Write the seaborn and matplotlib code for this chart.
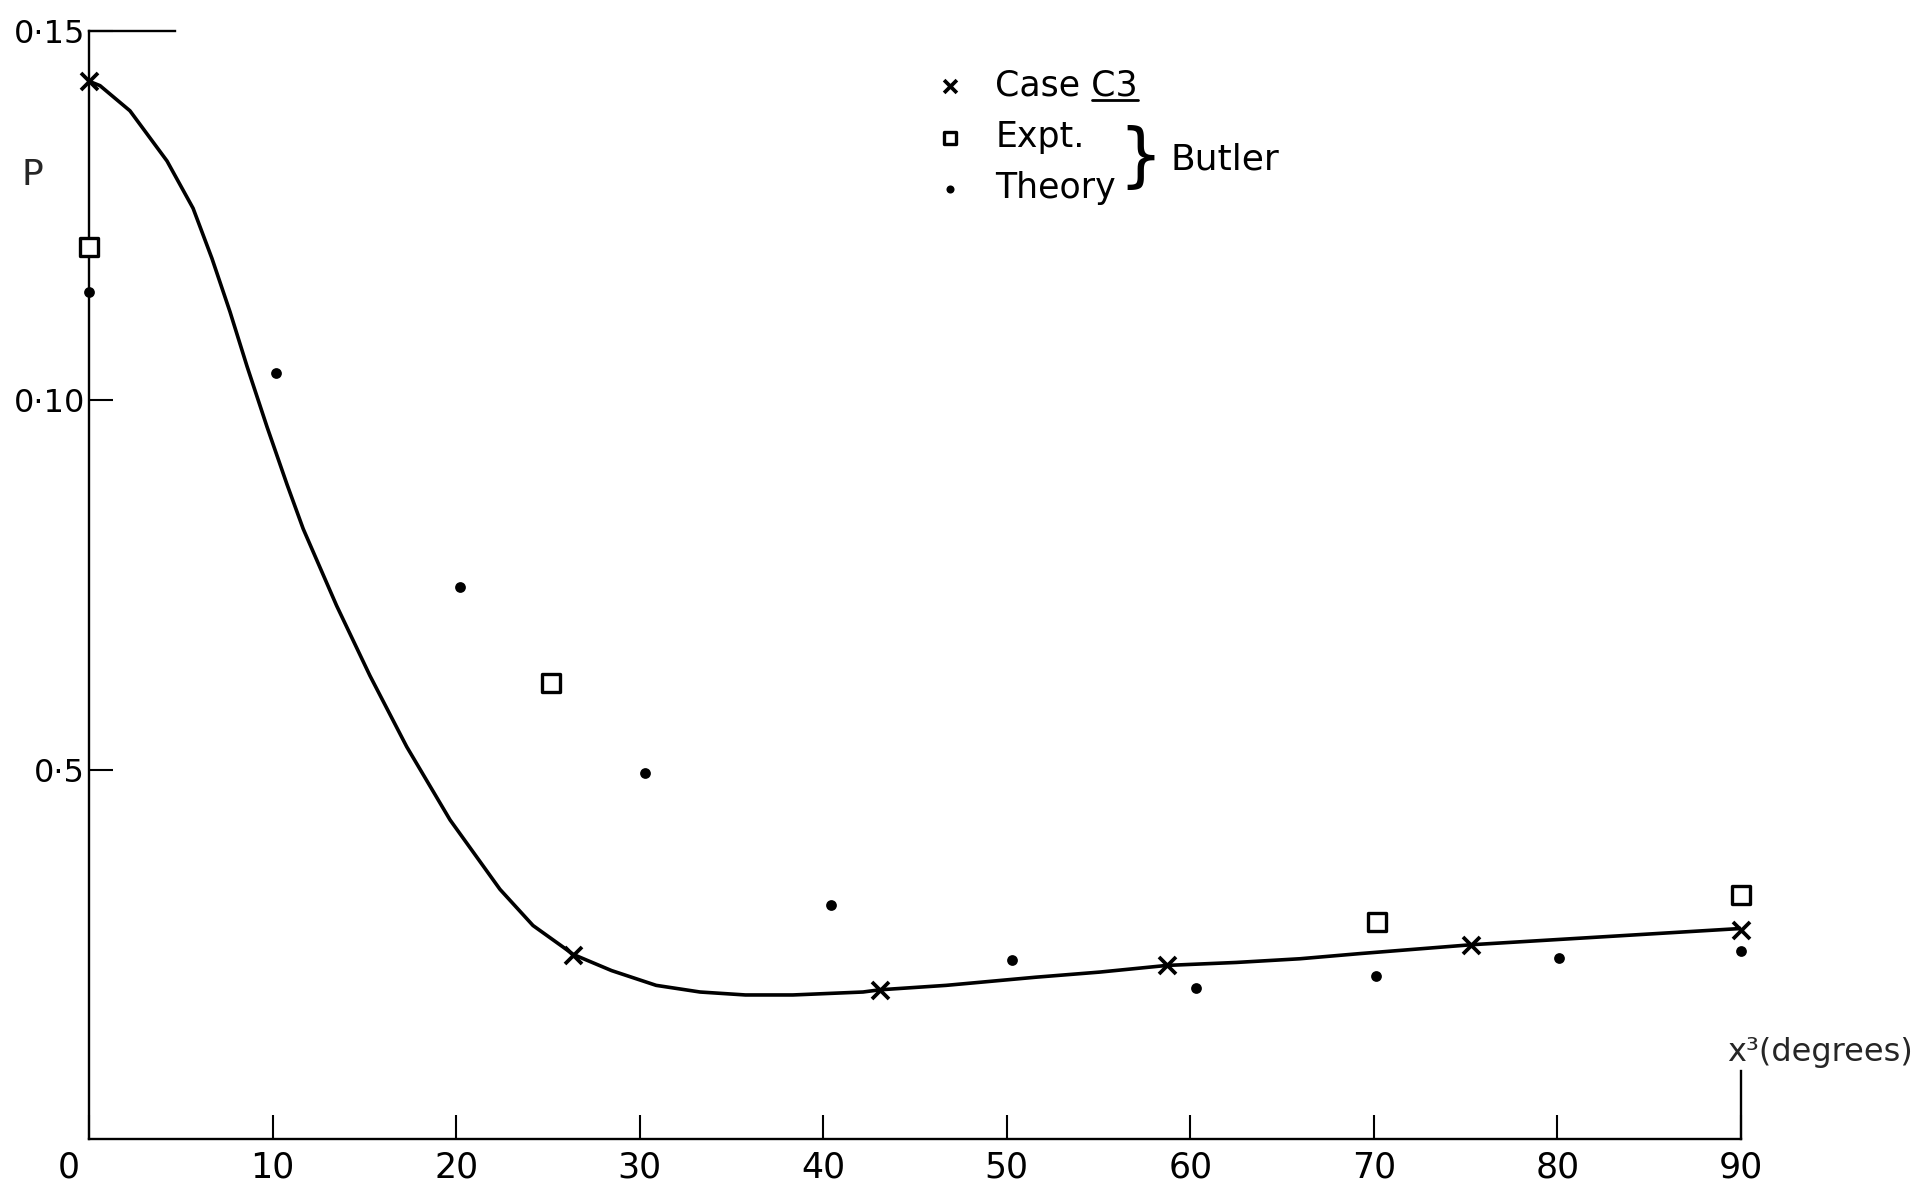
import numpy as np
import pandas as pd
import matplotlib
matplotlib.use("Agg")
import matplotlib.pyplot as plt
import seaborn as sns
from matplotlib.lines import Line2D
from matplotlib.transforms import IdentityTransform, ScaledTranslation

# ---------------- data ----------------
case_x = [0, 26.37, 43.09, 58.73, 75.32, 90]
case_y = [0.1432, 0.0249, 0.0202, 0.0236, 0.0263, 0.0283]

expt_x = [0, 25.15, 70.15, 90]
expt_y = [0.1207, 0.0618, 0.0294, 0.0330]

theory_x = [0, 10.2, 20.2, 30.3, 40.4, 50.3, 60.3, 70.1, 80.1, 90]
theory_y = [0.1147, 0.1037, 0.0747, 0.0495, 0.0317, 0.0242, 0.0205, 0.0220, 0.0245, 0.0254]

curve_x = [0, 0.6, 2.23, 4.25, 5.67, 6.70, 7.68, 8.61, 9.70, 10.79, 11.67, 13.49,
           15.31, 17.31, 19.67, 22.39, 24.19, 25.82, 26.37, 27.13, 28.47, 30.9,
           33.29, 35.76, 38.35, 42.17, 43.09, 46.7, 51.57, 55.08, 58.73, 62.5,
           65.97, 69.24, 75.32, 90.0]
curve_y = [0.1432, 0.1426, 0.1392, 0.1324, 0.1260, 0.1192, 0.1120, 0.1046, 0.0964,
           0.0886, 0.0826, 0.0722, 0.0627, 0.0531, 0.0432, 0.0338, 0.0289, 0.0260,
           0.0250, 0.0242, 0.0228, 0.0208, 0.0199, 0.0195, 0.0195, 0.0199, 0.0202,
           0.0208, 0.0219, 0.0226, 0.0235, 0.0239, 0.0244, 0.0251, 0.0263, 0.0285]

x_ticks = [0, 10, 20, 30, 40, 50, 60, 70, 80, 90]
x_tick_labels = ["0", "10", "20", "30", "40", "50", "60", "70", "80", "90"]
y_ticks = [0.05, 0.10, 0.15]
y_tick_labels = ["0·5", "0·10", "0·15"]

# ---------------- style ----------------
sns.set_theme(style="white")
plt.rcParams["font.family"] = ["DejaVu Sans"]
plt.rcParams["axes.edgecolor"] = "black"
plt.rcParams["text.color"] = "black"
plt.rcParams["xtick.color"] = "black"
plt.rcParams["ytick.color"] = "black"

fig = plt.figure(figsize=(19.32, 11.91), dpi=100)
L, R, B, T = 0.04607, 0.9011, 0.04366, 0.97397
ax = fig.add_axes([L, B, R - L, T - B])

sns.lineplot(x=curve_x, y=curve_y, ax=ax, color="black", linewidth=2.6,
             sort=False, estimator=None, zorder=2,
             solid_joinstyle="round", solid_capstyle="round")
sns.scatterplot(x=case_x, y=case_y, ax=ax, marker="x", s=150, color="black",
                linewidth=2.7, clip_on=False, zorder=4, label="Case C3")
sns.scatterplot(x=expt_x, y=expt_y, ax=ax, marker="s", s=150, facecolor="white",
                edgecolor="black", linewidth=2.4, clip_on=False, zorder=4, label="Expt.")
sns.scatterplot(x=theory_x, y=theory_y, ax=ax, marker="o", s=60, color="black",
                linewidth=0, clip_on=False, zorder=4, label="Theory")

ax.set_xlim(0, 90)
ax.set_ylim(0, 0.15)

# spines
for s in ax.spines.values():
    s.set_linewidth(1.7)
    s.set_color("black")
ax.spines["top"].set_bounds(0, 4.7)
ax.spines["right"].set_bounds(0, 0.0092)

ax.set_xticks(x_ticks)
ax.set_xticklabels(x_tick_labels)
ax.set_yticks(y_ticks)
ax.set_yticklabels(y_tick_labels)
ax.tick_params(axis="both", direction="in", length=17, width=1.5,
               top=False, right=False, left=True, bottom=True)
ax.tick_params(axis="x", labelsize=25, pad=8)
ax.tick_params(axis="y", labelsize=23, pad=3)

# the "0" label sits a little left of its tick in the reference
lab0 = ax.get_xticklabels()[0]
lab0.set_transform(lab0.get_transform() + ScaledTranslation(-0.2, 0, fig.dpi_scale_trans))

ax.set_ylabel("P", rotation=0, fontsize=26, ha="center", va="center")
ax.yaxis.set_label_coords(-0.034, 0.87)
ax.set_xlabel("x³(degrees)", fontsize=23, ha="center", va="center")
ax.xaxis.set_label_coords(1.048, 0.078)

leg = ax.legend(loc="upper left", bbox_to_anchor=(0.4829, 0.9425),
                bbox_transform=fig.transFigure, frameon=False, fontsize=25,
                handlelength=1.0, handletextpad=0.8, labelspacing=0.5,
                borderpad=0, borderaxespad=0, markerscale=0.75)

fig.text(0.5905, 0.8665, "}", fontsize=50, ha="center", va="center")
fig.text(0.6056, 0.8657, "Butler", fontsize=26, ha="left", va="center")

# underline "C3"
fig.canvas.draw()
renderer = fig.canvas.get_renderer()
t0 = leg.get_texts()[0]
bb = t0.get_window_extent(renderer)
tmp = fig.text(0, 0, "C3", fontsize=25)
w = tmp.get_window_extent(renderer).width
tmp.remove()
yline = bb.y0 + 2
fig.add_artist(Line2D([bb.x1 - w, bb.x1], [yline, yline], transform=IdentityTransform(),
                      color="black", linewidth=2))

fig.savefig("out.png", dpi=100)
